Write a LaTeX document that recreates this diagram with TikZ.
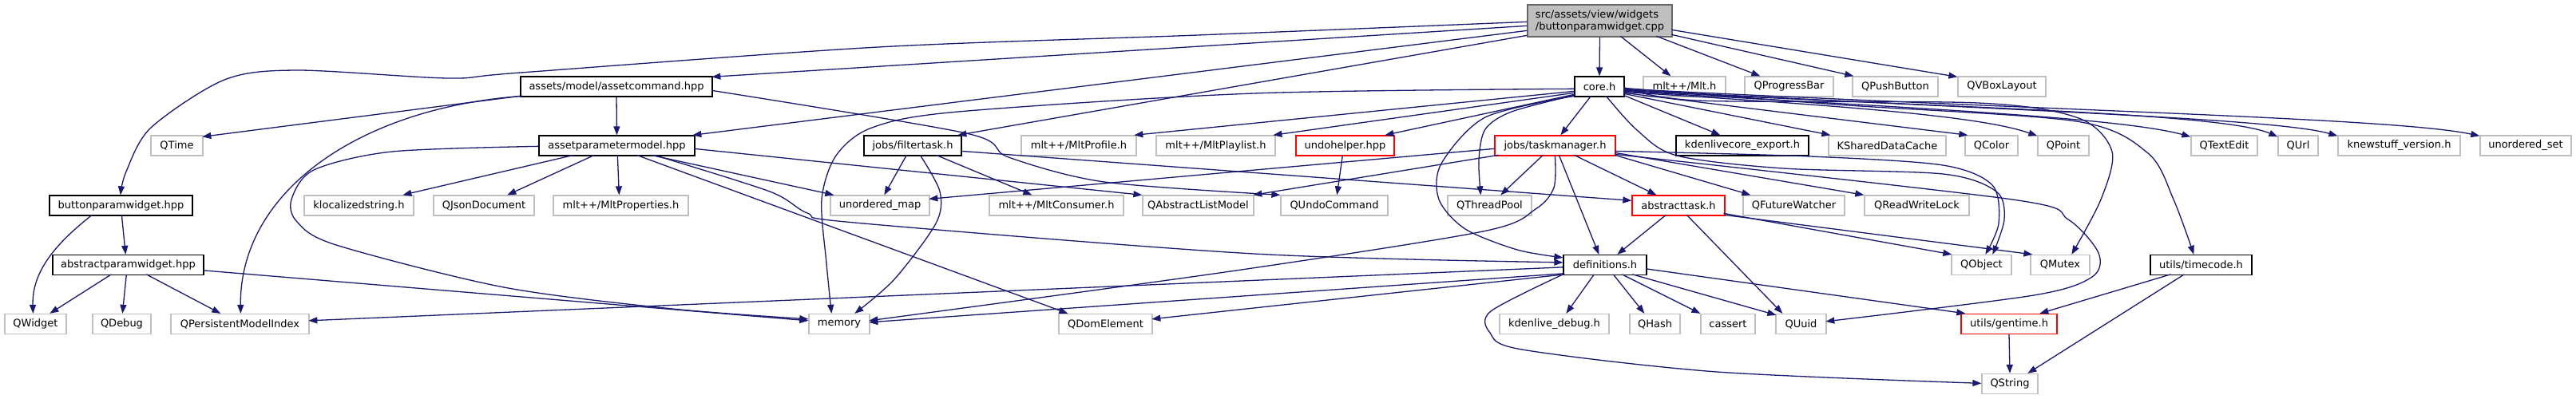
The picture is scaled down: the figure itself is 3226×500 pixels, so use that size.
\documentclass[tikz,border=0pt]{standalone}
\usepackage{fontspec}
\setmainfont{DejaVu Sans}
\usetikzlibrary{arrows.meta}
\definecolor{navy}{HTML}{191970}
\definecolor{extgray}{HTML}{BFBFBF}
\definecolor{rootfill}{HTML}{BFBFBF}
\definecolor{rootline}{HTML}{666666}
\definecolor{redline}{HTML}{FF0000}
\begin{document}
\begin{tikzpicture}[x=1pt,y=-1pt,
  font=\fontsize{13}{15}\selectfont,
  basebox/.style={line width=1.3pt, minimum height=25pt, inner sep=0pt, fill=white, text=black},
  dbox/.style={basebox, draw=black},
  gbox/.style={basebox, draw=extgray},
  rbox/.style={basebox, draw=redline},
  rootbox/.style={basebox, draw=rootline, fill=rootfill, minimum width=181pt, minimum height=40pt, align=left},
  dep/.style={draw=navy, line width=1.3pt, -{Triangle[length=11pt,width=8pt]}}]
\fill[white] (0,0) rectangle (3226,500);
\useasboundingbox (0,0) rectangle (3226,500);

% row 0
\node[rootbox] (R) at (2003.5,26) {src/assets/view/widgets\\/buttonparamwidget.cpp};
% row 1
\node[dbox,minimum width=240pt] (AC) at (772,108.5) {assets/model/assetcommand.hpp};
\node[dbox,minimum width=62pt] (C) at (2003,108.5) {core.h};
\node[gbox,minimum width=103pt] (MLT) at (2109.5,108.5) {mlt++/Mlt.h};
\node[gbox,minimum width=111pt] (QPB) at (2240.5,108.5) {QProgressBar};
\node[gbox,minimum width=107pt] (QPBtn) at (2373.5,108.5) {QPushButton};
\node[gbox,minimum width=110pt] (QVBL) at (2507,108.5) {QVBoxLayout};
% row 2
\node[gbox,minimum width=65pt] (QTime) at (221.5,182.5) {QTime};
\node[dbox,minimum width=195pt] (APM) at (772.5,182.5) {assetparametermodel.hpp};
\node[dbox,minimum width=122pt] (FT) at (1143,182.5) {jobs/filtertask.h};
\node[gbox,minimum width=144pt] (MPRO) at (1351,182.5) {mlt++/MltProfile.h};
\node[gbox,minimum width=149pt] (MPL) at (1522.5,182.5) {mlt++/MltPlaylist.h};
\node[rbox,minimum width=123pt] (UH) at (1684.5,182.5) {undohelper.hpp};
\node[rbox,minimum width=151pt] (TM) at (1947.5,182.5) {jobs/taskmanager.h};
\node[dbox,minimum width=166pt] (KCE) at (2182,182.5) {kdenlivecore\_export.h};
\node[gbox,minimum width=147pt] (KSDC) at (2363.5,182.5) {KSharedDataCache};
\node[gbox,minimum width=66pt] (QCol) at (2494,182.5) {QColor};
\node[gbox,minimum width=64pt] (QPt) at (2584,182.5) {QPoint};
\node[gbox,minimum width=83pt] (QTE) at (2785.5,182.5) {QTextEdit};
\node[gbox,minimum width=50pt] (QUrl) at (2878,182.5) {QUrl};
\node[gbox,minimum width=153pt] (KNS) at (3004.5,182.5) {knewstuff\_version.h};
\node[gbox,minimum width=114pt] (USET) at (3163,182.5) {unordered\_set};
% row 3
\node[dbox,minimum width=179pt] (BPW) at (151.5,257.5) {buttonparamwidget.hpp};
\node[gbox,minimum width=137pt] (KLS) at (449.5,257.5) {klocalizedstring.h};
\node[gbox,minimum width=126pt] (QJD) at (606,257.5) {QJsonDocument};
\node[gbox,minimum width=169pt] (MPROP) at (777.5,257.5) {mlt++/MltProperties.h};
\node[gbox,minimum width=124pt] (UMAP) at (1102,257.5) {unordered\_map};
\node[gbox,minimum width=168pt] (MCON) at (1323,257.5) {mlt++/MltConsumer.h};
\node[gbox,minimum width=139pt] (QALM) at (1500.5,257.5) {QAbstractListModel};
\node[gbox,minimum width=134pt] (QUC) at (1671,257.5) {QUndoCommand};
\node[gbox,minimum width=105pt] (QTP) at (1865.5,257.5) {QThreadPool};
\node[rbox,minimum width=116pt] (AT) at (2102,257.5) {abstracttask.h};
\node[gbox,minimum width=127pt] (QFW) at (2246.5,257.5) {QFutureWatcher};
\node[gbox,minimum width=131pt] (QRWL) at (2400.5,257.5) {QReadWriteLock};
% row 4
\node[dbox,minimum width=189pt] (APW) at (160.5,332) {abstractparamwidget.hpp};
\node[dbox,minimum width=104pt] (DEF) at (2010,332) {definitions.h};
\node[gbox,minimum width=75pt] (QObj) at (2481.5,332) {QObject};
\node[gbox,minimum width=74pt] (QMut) at (2580,332) {QMutex};
\node[dbox,minimum width=127pt] (TC) at (2756.5,332) {utils/timecode.h};
% row 5
\node[gbox,minimum width=77pt] (QW) at (44.5,406) {QWidget};
\node[gbox,minimum width=73pt] (QDbg) at (152.5,406) {QDebug};
\node[gbox,minimum width=173pt] (QPMI) at (300.5,406) {QPersistentModelIndex};
\node[gbox,minimum width=76pt] (MEM) at (1051,406) {memory};
\node[gbox,minimum width=117pt] (QDE) at (1384.5,406) {QDomElement};
\node[gbox,minimum width=137pt] (KDBG) at (1946.5,406) {kdenlive\_debug.h};
\node[gbox,minimum width=63pt] (QHash) at (2072.5,406) {QHash};
\node[gbox,minimum width=68pt] (CAS) at (2164,406) {cassert};
\node[gbox,minimum width=63pt] (QUuid) at (2255.5,406) {QUuid};
\node[rbox,minimum width=120pt] (GT) at (2516,406) {utils/gentime.h};
% row 6
\node[gbox,minimum width=70pt] (QStr) at (2517,481) {QString};

% ---- root edges
\draw[dep] plot[smooth] coordinates {([yshift=-22]R.north west) (1500,44) (1100,59) (652,91) (561,98) (372,88) (281,100) (189,160) (158,215) ([xshift=89.5]BPW.north west)};
\draw[dep] ([yshift=-27]R.north west) -- ([xshift=240,yshift=-1]AC.north west);
\draw[dep] ([yshift=-33]R.north west) -- ([xshift=193]APM.north west);
\draw[dep] ([yshift=-39]R.north west) -- ([xshift=118]FT.north west);
\draw[dep] (R.south) -- (C.north);
\draw[dep] ([xshift=117,yshift=-40]R.north west) -- ([xshift=35]MLT.north west);
\draw[dep] ([xshift=162,yshift=-40]R.north west) -- ([xshift=20]QPB.north west);
\draw[dep] ([xshift=181,yshift=-38]R.north west) -- ([xshift=2]QPBtn.north west);
\draw[dep] ([xshift=181,yshift=-32]R.north west) -- ([yshift=-1]QVBL.north west);

% ---- assetcommand
\draw[dep] ([yshift=-25]AC.north west) -- ([xshift=65,yshift=-2]QTime.north west);
\draw[dep] (AC.south) -- (APM.north);
\draw[dep] ([xshift=3,yshift=-25]AC.north west) .. controls (450,135) and (300,240) .. ([xshift=88]QPMI.north west);
\draw[dep] plot[smooth] coordinates {([xshift=240,yshift=-18]AC.north west) (1210,167) (1263,197) (1383,228) (QUC.north west)};

% ---- assetparametermodel
\draw[dep] plot[smooth] coordinates {([yshift=-14]APM.north west) (491,190) (393,213) (365,250) (372,278) (421,307) (631,360) (842,387) ([yshift=-7]MEM.north west)};
\draw[dep] ([xshift=44,yshift=-25]APM.north west) -- ([xshift=124]KLS.north west);
\draw[dep] ([xshift=70,yshift=-25]APM.north west) -- ([xshift=93]QJD.north west);
\draw[dep] ([xshift=99,yshift=-25]APM.north west) -- ([xshift=83]MPROP.north west);
\draw[dep] ([xshift=141,yshift=-25]APM.north west) -- ([xshift=5]UMAP.north west);
\draw[dep] ([xshift=195,yshift=-17]APM.north west) -- (QALM.north west);
\draw[dep] ([xshift=123,yshift=-25]APM.north west) -- ([xshift=12]QDE.north west);
\draw[dep] plot[smooth] coordinates {([xshift=145,yshift=-25]APM.north west) (964,240) (1011,267) (1070,279) (1570,318) ([yshift=-10]DEF.north west)};

% ---- buttonparamwidget / abstractparamwidget
\draw[dep] ([xshift=91,yshift=-25]BPW.north west) -- ([xshift=92]APW.north west);
\draw[dep] ([xshift=54,yshift=-25]BPW.north west) .. controls (70,305) and (40,340) .. ([xshift=36]QW.north west);
\draw[dep] ([xshift=74,yshift=-25]APW.north west) -- ([xshift=57]QW.north west);
\draw[dep] ([xshift=93,yshift=-25]APW.north west) -- ([xshift=38]QDbg.north west);
\draw[dep] ([xshift=118,yshift=-25]APW.north west) -- ([xshift=63]QPMI.north west);
\draw[dep] ([xshift=189,yshift=-20]APW.north west) -- ([yshift=-9]MEM.north west);

% ---- filtertask
\draw[dep] ([xshift=54,yshift=-25]FT.north west) -- ([xshift=68]UMAP.north west);
\draw[dep] plot[smooth] coordinates {([xshift=71,yshift=-25]FT.north west) (1177,240) (1172,280) (1120,350) ([xshift=58]MEM.north west)};
\draw[dep] ([xshift=91,yshift=-25]FT.north west) -- ([xshift=54]MCON.north west);
\draw[dep] ([xshift=122,yshift=-20]FT.north west) -- ([yshift=-7]AT.north west);

% ---- core.h
\draw[dep] plot[smooth] coordinates {([yshift=-16]C.north west) (1570,117) (1200,140) (1092,160) (1047,195) (1029,250) (1035,330) ([xshift=29]MEM.north west)};
\draw[dep] ([yshift=-19]C.north west) -- ([xshift=142]MPRO.north west);
\draw[dep] ([yshift=-21]C.north west) -- ([xshift=147]MPL.north west);
\draw[dep] ([yshift=-23]C.north west) -- ([xshift=112]UH.north west);
\draw[dep] ([xshift=21,yshift=-25]C.north west) -- ([xshift=83]TM.north west);
\draw[dep] plot[smooth] coordinates {([yshift=-24]C.north west) (1893,140) (1860,162) (1852,200) ([xshift=42]QTP.north west)};
\draw[dep] plot[smooth] coordinates {([yshift=-25]C.north west) (1860,147) (1805,205) (1802,250) (1835,287) (1900,313) ([yshift=-4]DEF.north west)};
\draw[dep] ([xshift=62,yshift=-24]C.north west) -- ([xshift=56]KCE.north west);
\draw[dep] ([xshift=62,yshift=-22]C.north west) -- ([xshift=3]KSDC.north west);
\draw[dep] ([xshift=62,yshift=-21]C.north west) -- ([xshift=4]QCol.north west);
\draw[dep] ([xshift=62,yshift=-20]C.north west) .. controls (2300,132) and (2480,145) .. ([yshift=-1]QPt.north west);
\draw[dep] ([xshift=62,yshift=-19]C.north west) .. controls (2350,133) and (2650,146) .. ([yshift=-2]QTE.north west);
\draw[dep] ([xshift=62,yshift=-18]C.north west) .. controls (2400,134) and (2780,140) .. ([yshift=-2]QUrl.north west);
\draw[dep] ([xshift=62,yshift=-17]C.north west) .. controls (2500,138) and (2850,148) .. ([yshift=-1]KNS.north west);
\draw[dep] ([xshift=62,yshift=-16]C.north west) .. controls (2600,140) and (3000,148) .. ([yshift=-1]USET.north west);
\draw[dep] plot[smooth] coordinates {([xshift=40,yshift=-25]C.north west) (2050,163) (2100,195) (2233,211) (2433,218) (2500,240) (2510,275) ([xshift=52]QObj.north west)};
\draw[dep] plot[smooth] coordinates {([xshift=62,yshift=-14]C.north west) (2126,126) (2477,129) (2603,148) (2645,190) (2631,250) ([xshift=52]QMut.north west)};
\draw[dep] plot[smooth] coordinates {([xshift=62,yshift=-15]C.north west) (2300,131) (2600,152) (2690,192) (2722,250) ([xshift=55]TC.north west)};

% ---- taskmanager
\draw[dep] ([yshift=-17]TM.north west) -- ([xshift=124,yshift=-5]UMAP.north west);
\draw[dep] ([xshift=5,yshift=-25]TM.north west) -- ([xshift=139]QALM.north west);
\draw[dep] ([xshift=61,yshift=-25]TM.north west) -- ([xshift=67]QTP.north west);
\draw[dep] plot[smooth] coordinates {([xshift=76,yshift=-25]TM.north west) (1946,235) (1923,262) (1857,290) (1541,340) ([xshift=76,yshift=-9]MEM.north west)};
\draw[dep] ([xshift=81,yshift=-25]TM.north west) -- ([xshift=45]DEF.north west);
\draw[dep] ([xshift=100,yshift=-25]TM.north west) -- ([xshift=31]AT.north west);
\draw[dep] ([xshift=151,yshift=-25]TM.north west) -- ([xshift=10]QFW.north west);
\draw[dep] ([xshift=151,yshift=-22]TM.north west) -- (QRWL.north west);
\draw[dep] plot[smooth] coordinates {([xshift=151,yshift=-20]TM.north west) (2267,196) (2433,207) (2495,232) (2503,280) ([xshift=43]QObj.north west)};
\draw[dep] plot[smooth] coordinates {([xshift=151,yshift=-24]TM.north west) (2520,250) (2590,275) (2628,317) (2620,347) (2547,370) ([xshift=63,yshift=-10]QUuid.north west)};

% ---- abstracttask
\draw[dep] ([xshift=43,yshift=-25]AT.north west) -- ([xshift=68]DEF.north west);
\draw[dep] ([xshift=69,yshift=-25]AT.north west) -- ([xshift=9]QUuid.north west);
\draw[dep] ([xshift=115,yshift=-23]AT.north west) -- ([xshift=1]QObj.north west);
\draw[dep] ([xshift=116,yshift=-25]AT.north west) -- ([xshift=3]QMut.north west);

% ---- definitions
\draw[dep] ([yshift=-16]DEF.north west) -- ([xshift=173,yshift=-9]QPMI.north west);
\draw[dep] ([yshift=-24]DEF.north west) -- ([xshift=76,yshift=-11]MEM.north west);
\draw[dep] ([xshift=2,yshift=-25]DEF.north west) -- ([xshift=117,yshift=-7]QDE.north west);
\draw[dep] ([xshift=39,yshift=-25]DEF.north west) -- ([xshift=84]KDBG.north west);
\draw[dep] ([xshift=63,yshift=-25]DEF.north west) -- ([xshift=19]QHash.north west);
\draw[dep] ([xshift=74,yshift=-25]DEF.north west) -- (CAS.north west);
\draw[dep] ([xshift=87,yshift=-25]DEF.north west) -- ([xshift=1,yshift=-2]QUuid.north west);
\draw[dep] ([xshift=104,yshift=-18]DEF.north west) -- ([xshift=6]GT.north west);
\draw[dep] plot[smooth] coordinates {([yshift=-25]DEF.north west) (1867,390) (1866,417) (1906,438) (2150,466) ([yshift=-12.5]QStr.north west)};

% ---- timecode / gentime / undohelper
\draw[dep] ([xshift=26,yshift=-25]TC.north west) -- ([xshift=99]GT.north west);
\draw[dep] ([xshift=43,yshift=-25]TC.north west) -- ([xshift=58]QStr.north west);
\draw[dep] (GT.south) -- (QStr.north);
\draw[dep] ([xshift=59,yshift=-25]UH.north west) -- ([xshift=71]QUC.north west);
\end{tikzpicture}
\end{document}
